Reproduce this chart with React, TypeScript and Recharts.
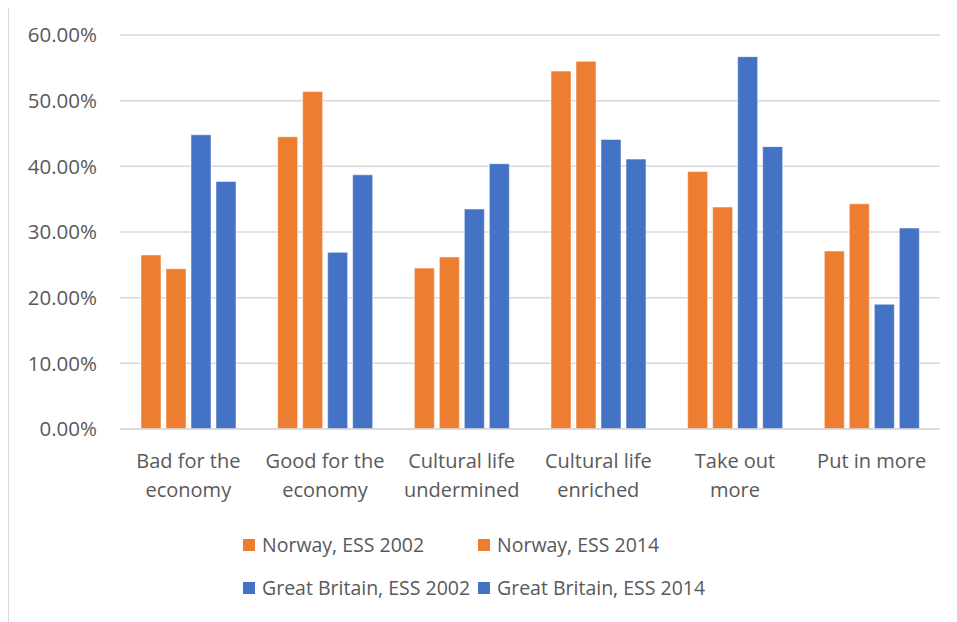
import React from "react";
import { BarChart, Bar, XAxis, YAxis, CartesianGrid, Legend } from "recharts";

const categories = [
  "Bad for the economy",
  "Good for the economy",
  "Cultural life undermined",
  "Cultural life enriched",
  "Take out more",
  "Put in more",
];

const categoryLines: string[][] = [
  ["Bad for the", "economy"],
  ["Good for the", "economy"],
  ["Cultural life", "undermined"],
  ["Cultural life", "enriched"],
  ["Take out", "more"],
  ["Put in more"],
];

const norway2002 = [26.5, 44.5, 24.5, 54.5, 39.2, 27.1];
const norway2014 = [24.4, 51.4, 26.2, 56.0, 33.8, 34.3];
const britain2002 = [44.8, 26.9, 33.5, 44.1, 56.7, 19.0];
const britain2014 = [37.7, 38.7, 40.4, 41.1, 43.0, 30.6];

const yTicks = [0, 10, 20, 30, 40, 50, 60];

const seriesInfo = [
  { key: "n2002", name: "Norway, ESS 2002", color: "#ED7D31" },
  { key: "n2014", name: "Norway, ESS 2014", color: "#ED7D31" },
  { key: "gb2002", name: "Great Britain, ESS 2002", color: "#4472C4" },
  { key: "gb2014", name: "Great Britain, ESS 2014", color: "#4472C4" },
];

const data = categories.map((c, i) => ({
  category: c,
  n2002: norway2002[i],
  n2014: norway2014[i],
  gb2002: britain2002[i],
  gb2014: britain2014[i],
}));

const FONT = "'Open Sans', sans-serif";
const TEXT = "#595959";

const CategoryTick = (props: any) => {
  const { x, y, payload } = props;
  const i = categories.indexOf(payload.value);
  const lines = categoryLines[i] || [payload.value];
  return (
    <text x={x} y={y} textAnchor="middle" fill={TEXT} fontFamily={FONT} fontSize={20}>
      {lines.map((l, k) => (
        <tspan key={k} x={x} dy={k === 0 ? 39 : 29}>
          {l}
        </tspan>
      ))}
    </text>
  );
};

const LegendBox = () => (
  <div style={{ paddingLeft: 234, marginTop: -6, fontFamily: FONT, fontSize: 19.5, color: TEXT }}>
    {[0, 1].map((row) => (
      <div key={row} style={{ height: 43, display: "flex", alignItems: "center" }}>
        {seriesInfo.slice(row * 2, row * 2 + 2).map((s) => (
          <div key={s.key} style={{ width: 235, display: "flex", alignItems: "center", whiteSpace: "nowrap" }}>
            <span style={{ width: 12, height: 12, background: s.color, display: "inline-block", marginRight: 7 }} />
            <span>{s.name}</span>
          </div>
        ))}
      </div>
    ))}
  </div>
);

export default function App() {
  return (
    <div
      style={{
        width: 960,
        height: 640,
        borderLeft: "1px solid #d9d9d9",
        borderTop: "1px solid #d9d9d9",
        background: "#fff",
        marginTop: -1,
      }}
    >
      <BarChart
        width={950}
        height={613}
        data={data}
        margin={{ top: 27, right: 19, bottom: 0, left: 0 }}
        barCategoryGap={21}
        barGap={5}
      >
        <CartesianGrid vertical={false} stroke="#d9d9d9" strokeWidth={1.5} />
        <XAxis
          dataKey="category"
          tick={<CategoryTick />}
          tickLine={false}
          axisLine={{ stroke: "#d9d9d9", strokeWidth: 1.5 }}
          tickSize={0}
          tickMargin={0}
          height={100}
          interval={0}
        />
        <YAxis
          domain={[0, 60]}
          ticks={yTicks}
          width={111}
          axisLine={false}
          tickLine={false}
          tickSize={0}
          tickMargin={23}
          tickFormatter={(v: number) => v.toFixed(2) + "%"}
          tick={{ fill: TEXT, fontFamily: FONT, fontSize: 20.5 }}
        />
        <Legend
          verticalAlign="bottom"
          content={<LegendBox />}
          wrapperStyle={{ left: 0, width: 950, height: 92 }}
        />
        {seriesInfo.map((s) => (
          <Bar
            key={s.key}
            dataKey={s.key}
            name={s.name}
            fill={s.color}
            stroke="#ffffff"
            strokeOpacity={0.5}
            strokeWidth={1}
            isAnimationActive={false}
          />
        ))}
      </BarChart>
    </div>
  );
}
